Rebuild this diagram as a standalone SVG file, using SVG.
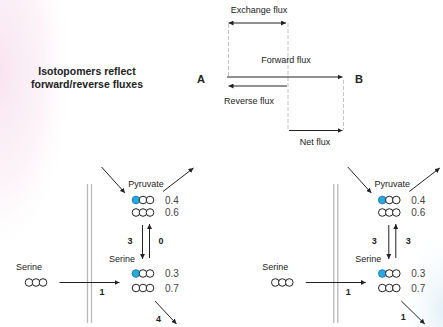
<svg xmlns="http://www.w3.org/2000/svg" width="443" height="327" viewBox="0 0 443 327">
  <defs>
    <radialGradient id="pinkHaze" cx="0.5" cy="0.5" r="0.5">
      <stop offset="0" stop-color="#f8e4f0"/>
      <stop offset="0.6" stop-color="#fbeff6" stop-opacity="0.7"/>
      <stop offset="1" stop-color="#ffffff" stop-opacity="0"/>
    </radialGradient>
    <radialGradient id="blueHaze" cx="0.5" cy="0.5" r="0.5">
      <stop offset="0" stop-color="#e2f0f7"/>
      <stop offset="1" stop-color="#ffffff" stop-opacity="0"/>
    </radialGradient>
    <marker id="head" viewBox="0 0 6 6" refX="6" refY="3" markerWidth="5" markerHeight="5" markerUnits="userSpaceOnUse" orient="auto-start-reverse">
      <path d="M0,0 L6,3 L0,6 z" fill="#222"/>
    </marker>
    <g id="triple">
      <circle cx="0" cy="0" r="3.8"/>
      <circle cx="7" cy="0" r="3.8"/>
      <circle cx="14" cy="0" r="3.8"/>
    </g>
    <g id="tripleLabel">
      <circle cx="0" cy="0" r="3.8" class="label"/>
      <circle cx="7" cy="0" r="3.8"/>
      <circle cx="14" cy="0" r="3.8"/>
    </g>
  </defs>
  <style>
    text { font-family: "Liberation Sans", Arial, sans-serif; fill: #222; }
    .bold { font-weight: bold; }
    .lbl { font-size: 9px; }
    .val { font-size: 10px; fill: #444; }
    .num { font-size: 9px; font-weight: bold; }
    .arrow { stroke: #222; stroke-width: 1; fill: none; marker-end: url(#head); }
    .dbl { marker-start: url(#head); }
    .dash { stroke: #c4c4c4; stroke-width: 1; stroke-dasharray: 4 2; fill: none; }
    .membrane { stroke: #b8b8b8; stroke-width: 1.3; fill: none; }
    circle { fill: #fff; stroke: #222; stroke-width: 1; }
    circle.label { fill: #27a9e1; stroke: #1a7fb0; }
  </style>

  <!-- background tints -->
  <rect x="0" y="0" width="443" height="327" fill="#fff"/>
  <ellipse cx="0" cy="70" rx="75" ry="190" fill="url(#pinkHaze)"/>
  <ellipse cx="443" cy="310" rx="45" ry="90" fill="url(#blueHaze)"/>

  <!-- flux definitions -->
  <g id="title">
    <text class="bold" x="87" y="75" font-size="10.5" text-anchor="middle">Isotopomers reflect</text>
    <text class="bold" x="87" y="88" font-size="10.5" text-anchor="middle">forward/reverse fluxes</text>
  </g>
  <g id="node-A"><text class="bold" x="201" y="83" font-size="11" text-anchor="middle">A</text></g>
  <g id="node-B"><text class="bold" x="359" y="83" font-size="11" text-anchor="middle">B</text></g>

  <g id="flux-guides">
    <line class="dash" x1="228.5" y1="24" x2="228.5" y2="77"/>
    <line class="dash" x1="288" y1="23" x2="288" y2="130"/>
    <line class="dash" x1="343.5" y1="80" x2="343.5" y2="130"/>
  </g>

  <g id="connectors-flux">
    <line class="arrow dbl" x1="228.5" y1="23" x2="286" y2="23"/>
    <line class="arrow" x1="227" y1="77" x2="342.5" y2="77"/>
    <line class="arrow" x1="287" y1="86" x2="228.5" y2="86"/>
    <line class="arrow" x1="289" y1="130.5" x2="342.5" y2="130.5"/>
  </g>
  <g id="flux-labels">
    <text class="lbl" x="259" y="13" text-anchor="middle">Exchange flux</text>
    <text class="lbl" x="286" y="63" text-anchor="middle">Forward flux</text>
    <text class="lbl" x="249" y="104" text-anchor="middle">Reverse flux</text>
    <text class="lbl" x="315" y="145" text-anchor="middle">Net flux</text>
  </g>

  <!-- left panel: no exchange -->
  <g id="panel-left">
    <line class="membrane" x1="87.5" y1="184" x2="87.5" y2="323"/>
    <line class="membrane" x1="91.5" y1="184" x2="91.5" y2="323"/>

    <g id="serine-ext-left">
      <text class="lbl" x="29" y="270" text-anchor="middle">Serine</text>
      <use href="#triple" x="29" y="282.5"/>
    </g>
    <g id="pyruvate-left">
      <text class="lbl" x="146" y="187" text-anchor="middle">Pyruvate</text>
      <use href="#tripleLabel" x="136" y="200"/>
      <use href="#triple" x="136" y="212.5"/>
      <text class="val" x="165" y="203.5">0.4</text>
      <text class="val" x="165" y="216">0.6</text>
    </g>
    <g id="serine-int-left">
      <text class="lbl" x="122" y="262" text-anchor="middle">Serine</text>
      <use href="#tripleLabel" x="136" y="273.5"/>
      <use href="#triple" x="136" y="288"/>
      <text class="val" x="165" y="277">0.3</text>
      <text class="val" x="165" y="291.5">0.7</text>
    </g>

    <g id="connectors-left">
      <line class="arrow" x1="101.5" y1="167" x2="125" y2="193"/>
      <line class="arrow" x1="163" y1="191.5" x2="193.5" y2="168"/>
      <line class="arrow" x1="142.5" y1="225" x2="142.5" y2="259"/>
      <line class="arrow" x1="149.5" y1="258" x2="149.5" y2="224"/>
      <line class="arrow" x1="59.5" y1="282.5" x2="119.5" y2="282.5"/>
      <line class="arrow" x1="155" y1="301" x2="176.5" y2="324"/>
    </g>
    <g id="flux-values-left">
      <text class="num" x="130" y="243.5" text-anchor="middle">3</text>
      <text class="num" x="161" y="243.5" text-anchor="middle">0</text>
      <text class="num" x="102" y="295" text-anchor="middle">1</text>
      <text class="num" x="158.5" y="322" text-anchor="middle">4</text>
    </g>
  </g>

  <!-- right panel: with exchange -->
  <g id="panel-right" transform="translate(246.3 0)">
    <line class="membrane" x1="87.5" y1="184" x2="87.5" y2="323"/>
    <line class="membrane" x1="91.5" y1="184" x2="91.5" y2="323"/>

    <g id="serine-ext-right">
      <text class="lbl" x="29" y="270" text-anchor="middle">Serine</text>
      <use href="#triple" x="29" y="282.5"/>
    </g>
    <g id="pyruvate-right">
      <text class="lbl" x="146" y="187" text-anchor="middle">Pyruvate</text>
      <use href="#tripleLabel" x="136" y="200"/>
      <use href="#triple" x="136" y="212.5"/>
      <text class="val" x="165" y="203.5">0.4</text>
      <text class="val" x="165" y="216">0.6</text>
    </g>
    <g id="serine-int-right">
      <text class="lbl" x="122" y="262" text-anchor="middle">Serine</text>
      <use href="#tripleLabel" x="136" y="273.5"/>
      <use href="#triple" x="136" y="288"/>
      <text class="val" x="165" y="277">0.3</text>
      <text class="val" x="165" y="291.5">0.7</text>
    </g>

    <g id="connectors-right">
      <line class="arrow" x1="101.5" y1="167" x2="125" y2="193"/>
      <line class="arrow" x1="163" y1="191.5" x2="193.5" y2="168"/>
      <line class="arrow" x1="142.5" y1="225" x2="142.5" y2="259"/>
      <line class="arrow" x1="149.5" y1="258" x2="149.5" y2="224"/>
      <line class="arrow" x1="59.5" y1="282.5" x2="119.5" y2="282.5"/>
      <line class="arrow" x1="155" y1="301" x2="178.5" y2="324"/>
    </g>
    <g id="flux-values-right">
      <text class="num" x="128" y="243.5" text-anchor="middle">3</text>
      <text class="num" x="162" y="243.5" text-anchor="middle">3</text>
      <text class="num" x="102" y="295" text-anchor="middle">1</text>
      <text class="num" x="157" y="320" text-anchor="middle">1</text>
    </g>
  </g>
</svg>
